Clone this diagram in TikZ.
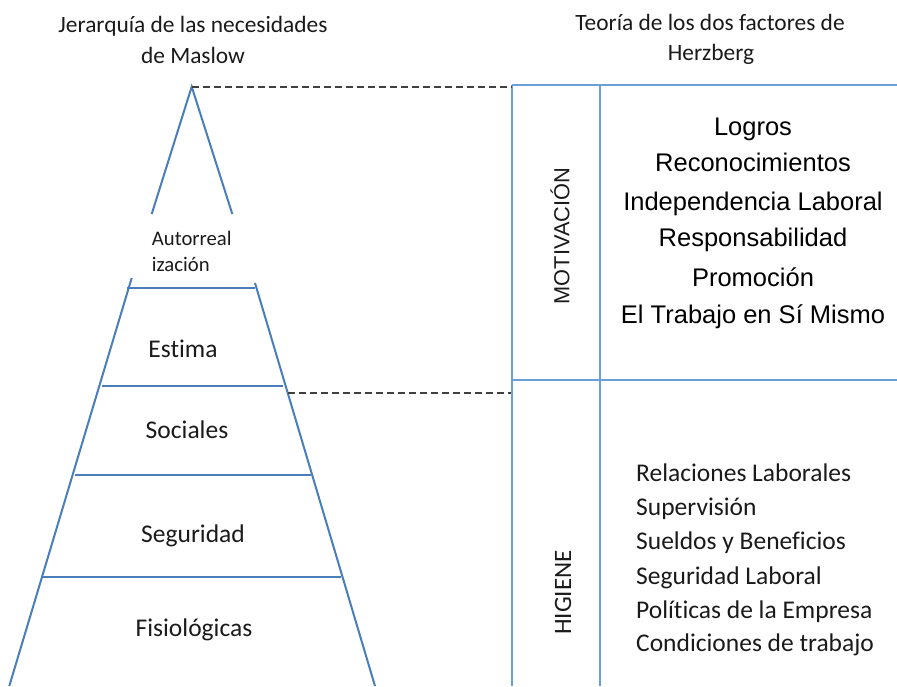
\documentclass[tikz,border=0pt]{standalone}
\usepackage{fontspec}
\setmainfont[Ligatures=NoCommon]{Carlito}
\newfontfamily\arialfont{Liberation Sans}
\usepackage{xcolor}
\usepackage{tikz}
\usetikzlibrary{calc,positioning}
\definecolor{pyrblue}{HTML}{4A7EBB}
\definecolor{tabblue}{HTML}{6A9FD8}
\definecolor{dashgray}{HTML}{404040}
\definecolor{textdark}{HTML}{1A1A1A}
\tikzset{
  pyrline/.style={draw=pyrblue, line width=2pt},
  tabline/.style={draw=tabblue, line width=2.4pt},
  guide/.style={draw=dashgray, line width=2pt, dash pattern=on 7pt off 4pt},
  title/.style={anchor=base, inner sep=0pt, text=textdark,
  font=\fontsize{23.4}{28}\selectfont},
  level/.style={anchor=base, inner sep=0pt, text=textdark,
  font=\fontsize{25.5}{30}\selectfont},
  factor/.style={anchor=base, inner sep=0pt, text=black,
  font=\arialfont\fontsize{25.5}{30}\selectfont},
  hygiene/.style={anchor=base west, inner sep=0pt, text=textdark,
  font=\fontsize{25.5}{30}\selectfont},
  sidelabel/.style={inner sep=0pt, rotate=90, text=textdark}
}

\begin{document}
\begin{tikzpicture}[x=1pt, y=-1pt]
		\useasboundingbox (0,0) rectangle (897,686);
		% pyramid
		\coordinate (apex) at (191.7,86.7);
		\coordinate (tipL) at (151.7,214);
		\coordinate (tipR) at (232.3,214);
		\coordinate (baseL) at (131.7,278);
		\coordinate (baseR) at (255,283);
		\coordinate (footL) at (9.3,686);
		\coordinate (footR) at (375,686);
		\draw[pyrline] (tipL) -- (apex) -- (tipR);
		\draw[pyrline] (baseL) -- (footL);
		\draw[pyrline] (baseR) -- (footR);
		\draw[pyrline] (127,288.3) -- (255,288.3);
		\draw[pyrline] (101.7,385.7) -- (282.7,385.7);
		\draw[pyrline] (75,475) -- (310.7,475);
		\draw[pyrline] (43,576.7) -- (340.7,576.7);
		% table
		\coordinate (tabTL) at (512,85);
		\coordinate (tabTR) at (897,85);
		\coordinate (tabML) at (512,380);
		\coordinate (tabMR) at (897,380);
		\draw[tabline] (tabTL) -- (tabTR);
		\draw[tabline] (tabML) -- (tabMR);
		\draw[tabline] (tabTL) -- (512,686);
		\draw[tabline] (600,85) -- (600,686);
		% dashed guides
		\coordinate (midL) at (288,392.5);
		\coordinate (midR) at (511,392.5);
		\draw[guide] (apex) -- (511,86.7);
		\draw[guide] (midL) -- (midR);
		% titles
		\node[title] (maslow1) at (193,32) {Jerarquía de las necesidades};
		\node[title] (maslow2) at (193,63) {de Maslow};
		\node[title] (herz1) at (710,30) {Teoría de los dos factores de};
		\node[title] (herz2) at (711,60) {Herzberg};
		% levels
		\node[anchor=base west, inner sep=0pt, text=textdark,
		font=\fontsize{20.7}{25}\selectfont] (auto1) at (151.7,245) {Autorreal};
		\node[anchor=base west, inner sep=0pt, text=textdark,
		font=\fontsize{20.7}{25}\selectfont] (auto2) at (151.7,271.7) {ización};
		\node[level] (estima) at (183,357) {Estima};
		\node[level] (sociales) at (187,438) {Sociales};
		\node[level] (seguridad) at (193,542.7) {Seguridad};
		\node[level] (fisio) at (194,636.7) {Fisiológicas};
		% factors
		\node[sidelabel, font=\arialfont\fontsize{21.8}{26}\selectfont] (motiv)
		at (560,236) {MOTIVACIÓN};
		\node[sidelabel, font=\fontsize{25}{30}\selectfont] (higiene)
		at (563,592.5) {HIGIENE};
		\foreach \txt/\yy [count=\i] in {Logros/135, Reconocimientos/171.7,
		Independencia Laboral/210, Responsabilidad/246.7, Promoción/286.7,
		El Trabajo en Sí Mismo/323}
			\node[factor] (mot\i) at (753,\yy) {\txt};
		\foreach \txt/\yy [count=\i] in {Relaciones Laborales/481.7,
		Supervisión/515.7, Sueldos y Beneficios/549.3, Seguridad Laboral/584,
		Políticas de la Empresa/618.3, Condiciones de trabajo/651.7}
			\node[hygiene] (hig\i) at (636,\yy) {\txt};
\end{tikzpicture}
\end{document}
